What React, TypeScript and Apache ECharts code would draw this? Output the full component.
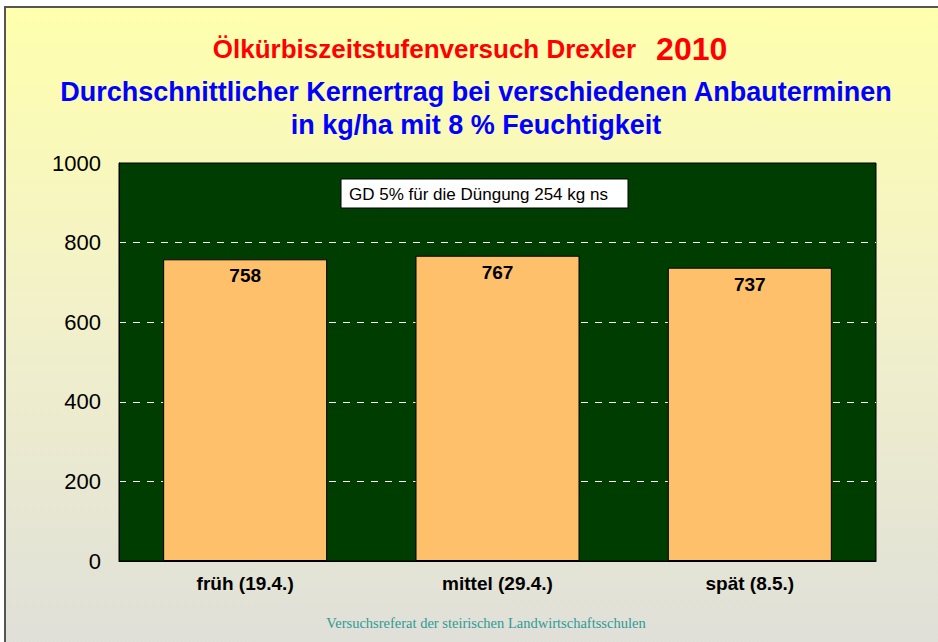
import React, { useEffect, useRef } from "react";
import * as echarts from "echarts";

const categories = ["früh (19.4.)", "mittel (29.4.)", "spät (8.5.)"];
const yields = [758, 767, 737];
const yTicks = { min: 0, max: 1000, interval: 200 };
const titleMain = "Ölkürbiszeitstufenversuch Drexler";
const titleYear = "2010";
const subtitleLines = ["Durchschnittlicher Kernertrag bei verschiedenen Anbauterminen", "in kg/ha mit 8 % Feuchtigkeit"];
const noteText = "GD 5% für die Düngung 254 kg ns";
const footerText = "Versuchsreferat der steirischen Landwirtschaftsschulen";

export default function App() {
  const ref = useRef<HTMLDivElement>(null);
  useEffect(() => {
    if (!ref.current) return;
    const chart = echarts.init(ref.current, null, { renderer: "svg" });
    chart.setOption({
      animation: false,
      backgroundColor: "#ffffff",
      textStyle: { fontFamily: "Liberation Sans, Arial, sans-serif" },
      title: [
        {
          text: `{a|${titleMain}}    {b|${titleYear}}`,
          left: 465,
          textAlign: "center",
          top: 27,
          textStyle: {
            rich: {
              a: { fontSize: 26, fontWeight: "bold", color: "#ff0000", fontFamily: "Liberation Sans", lineHeight: 34 },
              b: { fontSize: 32, fontWeight: "bold", color: "#ff0000", fontFamily: "Liberation Sans", lineHeight: 34 },
            },
          },
        },
        {
          text: subtitleLines.join("\n"),
          left: 471,
          textAlign: "center",
          top: 70,
          textStyle: { fontSize: 27, fontWeight: "bold", color: "#0000ff", lineHeight: 33, fontFamily: "Liberation Sans" },
        },
      ],
      grid: { left: 119, top: 163, width: 757, height: 398, show: true, backgroundColor: "#003d00", borderColor: "#000000", borderWidth: 1, containLabel: false },
      xAxis: {
        type: "category",
        data: categories,
        axisLine: { show: true, lineStyle: { color: "#000000", width: 1 } },
        axisTick: { show: false },
        axisLabel: { fontSize: 19, fontWeight: "bold", color: "#000000", margin: 13, fontFamily: "Liberation Sans" },
      },
      yAxis: {
        type: "value",
        min: yTicks.min,
        max: yTicks.max,
        interval: yTicks.interval,
        axisLine: { show: true, lineStyle: { color: "#000000" } },
        axisTick: { show: false },
        axisLabel: { fontSize: 22, color: "#000000", margin: 18, fontFamily: "Liberation Sans", formatter: (v: number) => String(v) },
        splitLine: { show: true, showMinLine: false, showMaxLine: false, lineStyle: { color: "#ffffff", type: [7, 7], width: 1 } },
      },
      series: [
        {
          type: "bar",
          data: yields,
          barWidth: 164,
          itemStyle: { color: "#ffc06b", borderColor: "#000000", borderWidth: 1 },
          label: { show: true, position: "insideTop", distance: 7, fontSize: 19, fontWeight: "bold", color: "#000000", fontFamily: "Liberation Sans" },
        },
      ],
      graphic: [
        {
          type: "rect",
          z: -10,
          silent: true,
          shape: { x: 5, y: 7, width: 945, height: 645 },
          style: {
            fill: new echarts.graphic.LinearGradient(0, 0, 0, 1, [
              { offset: 0, color: "#ffffad" },
              { offset: 0.5, color: "#f1f0cb" },
              { offset: 1, color: "#dfdfd9" },
            ]),
            stroke: "#555555",
            lineWidth: 2,
          },
        },
        {
          type: "rect",
          z: 10,
          shape: { x: 341, y: 179, width: 287, height: 29 },
          style: { fill: "#ffffff", stroke: "#000000", lineWidth: 1 },
        },
        {
          type: "text",
          z: 11,
          x: 349,
          y: 194,
          style: { text: noteText, fontSize: 17, fontFamily: "Liberation Sans", fill: "#000000", verticalAlign: "middle", align: "left" },
        },
        {
          type: "text",
          z: 11,
          x: 486,
          y: 623,
          style: { text: footerText, fontSize: 14.5, fontFamily: "Liberation Serif", fill: "#2f9a94", verticalAlign: "middle", align: "center" },
        },
      ],
    });
    return () => chart.dispose();
  }, []);
  return <div ref={ref} style={{ position: "fixed", left: 0, top: 0, width: 938, height: 642 }} />;
}
